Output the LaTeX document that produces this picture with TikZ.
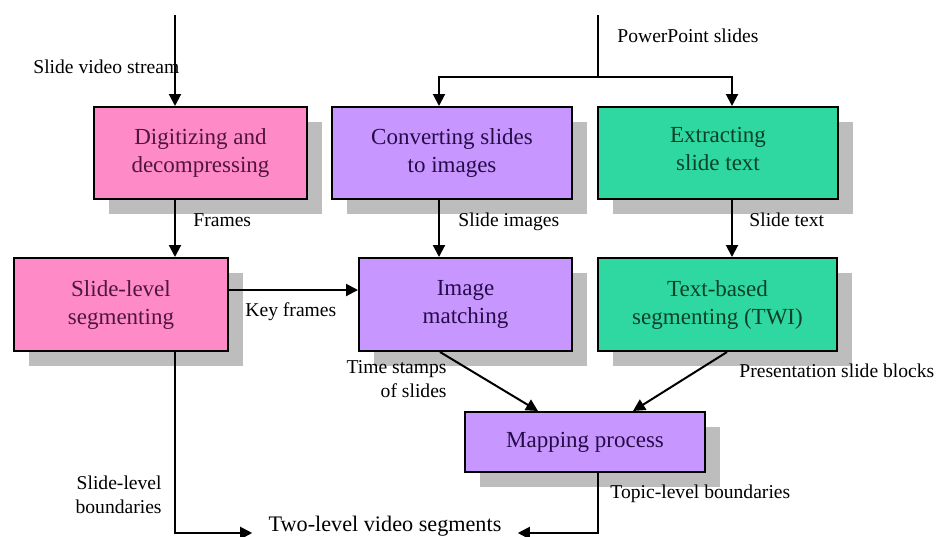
\documentclass[tikz,border=0pt]{standalone}
\usepackage{fontspec}
\setmainfont{Liberation Serif}
\usepackage{tikz}
\usetikzlibrary{positioning}
\usetikzlibrary{arrows.meta}
\usetikzlibrary{shadows}
\usepackage{xcolor}

\definecolor{pinkbox}{HTML}{FF8AC8}
\definecolor{pinktext}{HTML}{4F1540}
\definecolor{purplebox}{HTML}{C896FF}
\definecolor{purpletext}{HTML}{250C48}
\definecolor{greenbox}{HTML}{2ED8A0}
\definecolor{greentext}{HTML}{0C4029}
\definecolor{shadegray}{HTML}{BDBDBD}

\begin{document}
\begin{tikzpicture}[x=0.5pt, y=-0.5pt,
    procbox/.style={draw, rectangle, line width=1pt, inner sep=0pt, minimum height=46pt, align=center,
        font=\fontsize{11.5}{14}\selectfont,
        general shadow={fill=shadegray, shadow xshift=7.5pt, shadow yshift=-7.5pt}},
    flowlabel/.style={inner sep=0pt, font=\fontsize{9.8}{12}\selectfont},
    flow/.style={line width=1pt, -{Triangle[length=6pt, width=6pt]}}]
    \useasboundingbox (0,0) rectangle (936,536);

    % first row
    \node (dig) [procbox, fill=pinkbox, text=pinktext, minimum width=106.5pt] at (200.5,153) {Digitizing and\\decompressing};
    \node (conv) [procbox, fill=purplebox, text=purpletext, minimum width=120pt] at (452,153) {Converting slides\\to images};
    \node (extr) [procbox, fill=greenbox, text=greentext, minimum width=120pt] at (718,153) {Extracting\\slide text\strut};

    % second row
    \node (slseg) [procbox, fill=pinkbox, text=pinktext, minimum width=107pt, minimum height=46.5pt] at (121,304.5) {Slide-level\\segmenting};
    \node (imgm) [procbox, fill=purplebox, text=purpletext, minimum width=106.5pt, minimum height=46.5pt] at (465.5,304.5) {Image\\matching};
    \node (txtseg) [procbox, fill=greenbox, text=greentext, minimum width=119.5pt, minimum height=46.5pt] at (717.5,304.5) {Text-based\\segmenting (TWI)};

    \node (mapp) [procbox, fill=purplebox, text=purpletext, minimum width=120pt, minimum height=30pt] at (585,442) {Mapping process};

    \node (twolevel) [anchor=base, inner xsep=8pt, inner ysep=0pt, font=\fontsize{11.1}{13}\selectfont] at (385,531) {Two-level video segments};

    % inputs
    \coordinate (vidin) at (175,15);
    \coordinate (pptin) at (598,15);
    \coordinate (pptsplit) at (598,77);

    \draw[flow] (vidin) -- (vidin |- dig.north);
    \draw[line width=1pt] (pptin) -- (pptsplit);
    \draw[flow] (pptsplit) -| ([xshift=-6.5pt]conv.north);
    \draw[flow] (pptsplit) -| ([xshift=7pt]extr.north);

    \draw[flow] (vidin |- dig.south) -- (vidin |- slseg.north);
    \draw[flow] ([xshift=-6.5pt]conv.south) -- ([xshift=-6.5pt]conv.south |- imgm.north);
    \draw[flow] ([xshift=7pt]extr.south) -- ([xshift=7pt]extr.south |- txtseg.north);
    \draw[flow] ([yshift=7.25pt]slseg.east) -- ([yshift=7.25pt]slseg.east -| imgm.west);

    \draw[flow] ([xshift=-12.75pt]imgm.south) -- ([xshift=-23.5pt]mapp.north);
    \draw[flow] ([xshift=4.75pt]txtseg.south) -- ([xshift=24pt]mapp.north);

    \draw[flow] (vidin |- slseg.south) |- ([yshift=-1pt]twolevel.base west);
    \draw[flow] ([xshift=6.5pt]mapp.south) |- ([yshift=-1pt]twolevel.base east);

    % labels
    \node[flowlabel, anchor=base west] at (33,73) {Slide video stream};
    \node[flowlabel, anchor=base west] at (617,42) {PowerPoint slides};
    \node[flowlabel, anchor=base west] at (193,226) {Frames};
    \node[flowlabel, anchor=base west] at (458,226) {Slide images};
    \node[flowlabel, anchor=base west] at (749,226) {Slide text};
    \node[flowlabel, anchor=base west] at (245,316) {Key frames};
    \node[flowlabel, anchor=north east, align=right] at (447,360) {Time stamps\\of slides};
    \node[flowlabel, anchor=base west] at (739,377) {Presentation slide blocks};
    \node[flowlabel, anchor=north east, align=right] at (162,475) {Slide-level\\boundaries};
    \node[flowlabel, anchor=base west] at (610,498) {Topic-level boundaries};
\end{tikzpicture}
\end{document}
